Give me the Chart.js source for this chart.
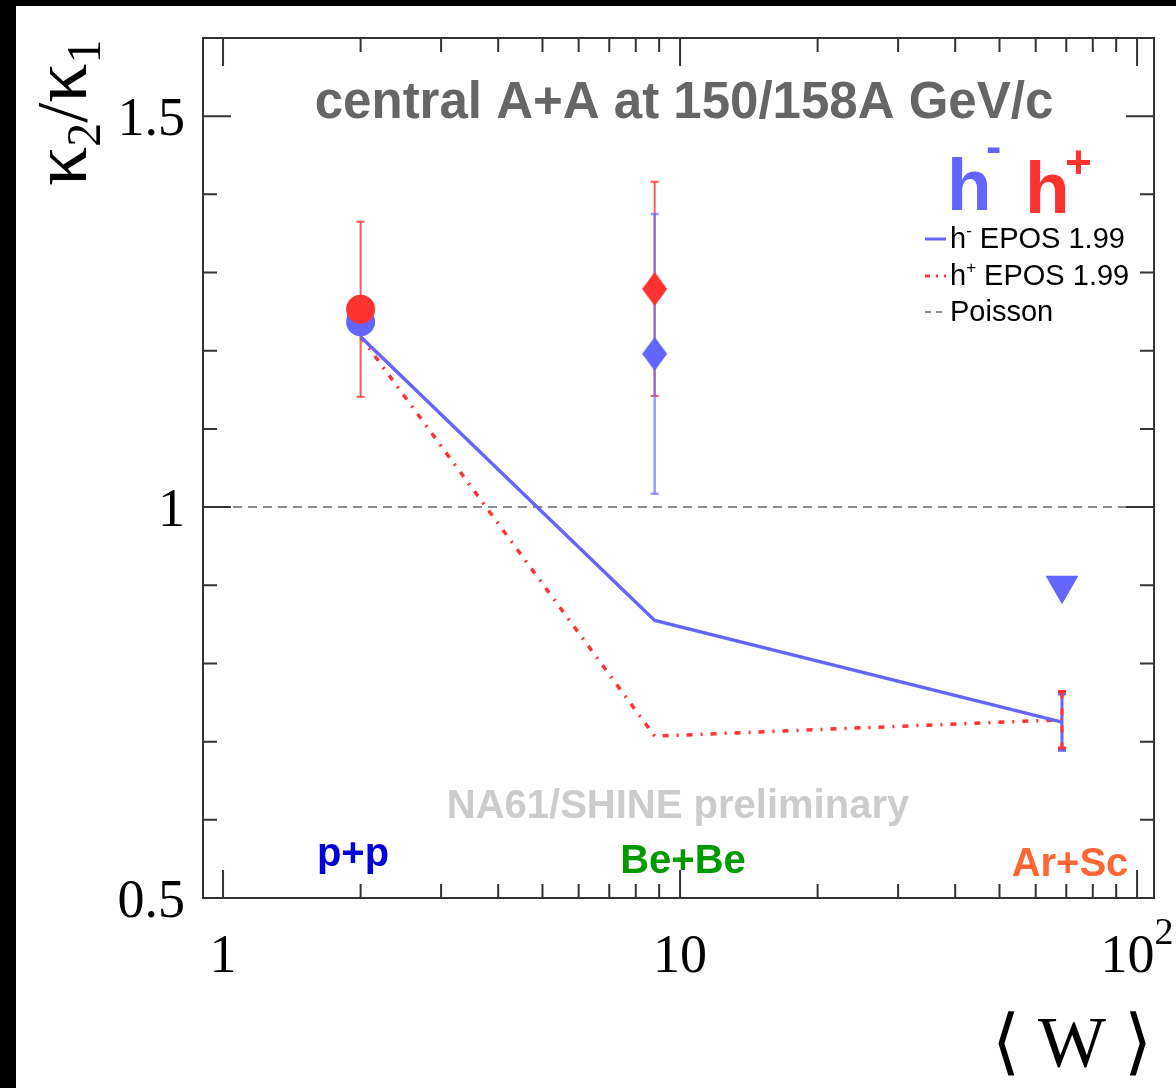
<!DOCTYPE html>
<html>
<head>
<meta charset="utf-8">
<script src="https://cdn.jsdelivr.net/npm/chart.js@4.4.1/dist/chart.umd.min.js"></script>
<style>
  html, body { margin: 0; padding: 0; background: #fff; }
  #wrap { width: 1176px; height: 1088px; }
</style>
</head>
<body>
<div id="wrap"><canvas id="chart" width="1176" height="1088"></canvas></div>
<script>
/* ---------- data ---------- */
const systems = ["p+p", "Be+Be", "Ar+Sc"];
const systemColors = ["#0000dd", "#009900", "#ff6633"];
const wMean = [2.0, 8.8, 68.5];

// NA61/SHINE points
const hMinus = [1.237, 1.196, 0.900];
const hMinusErr = [null, 0.179, null];
const hPlus = [1.253, 1.279, null];
const hPlusErr = [0.112, 0.137, null];

// EPOS 1.99
const eposMinus = [1.218, 0.855, 0.725];
const eposPlus = [1.218, 0.707, 0.728];
const eposErr = [null, null, 0.036];

// axes
const yMajor = [0.5, 1, 1.5];
const yMajorLabels = ["0.5", "1", "1.5"];
const yMinor = [0.6, 0.7, 0.8, 0.9, 1.1, 1.2, 1.3, 1.4];
const xMajor = [1, 10, 100];
const xMajorLabels = ["1", "10", "10|2"];
const xMinor = [2, 3, 4, 5, 6, 7, 8, 9, 20, 30, 40, 50, 60, 70, 80, 90];

const BLUE = "#6464ff";
const RED = "#ff3232";
const SANS = "'Liberation Sans', Arial, sans-serif";
const SERIF = "'Liberation Serif', 'Times New Roman', serif";

/* ---------- helpers ---------- */
function diamond(color, w, h) {
  const c = document.createElement("canvas");
  c.width = w; c.height = h;
  const g = c.getContext("2d");
  g.fillStyle = color;
  g.beginPath();
  g.moveTo(w / 2, 0); g.lineTo(w, h / 2); g.lineTo(w / 2, h); g.lineTo(0, h / 2);
  g.closePath(); g.fill();
  return c;
}

function pts(arr) {
  return wMean.map((x, i) => ({ x: x, y: arr[i] }));
}

function text(ctx, s, x, y, font, color, align) {
  ctx.font = font;
  ctx.fillStyle = color;
  ctx.textAlign = align || "left";
  ctx.textBaseline = "alphabetic";
  ctx.fillText(s, x, y);
}

function vbar(ctx, xs, ys, x, y, e, color, width, dash) {
  const px = xs.getPixelForValue(x);
  const top = ys.getPixelForValue(y + e);
  const bot = ys.getPixelForValue(y - e);
  ctx.save();
  ctx.strokeStyle = color;
  ctx.lineWidth = width;
  ctx.setLineDash(dash || []);
  ctx.beginPath();
  ctx.moveTo(px, top); ctx.lineTo(px, bot);
  ctx.stroke();
  ctx.setLineDash([]);
  ctx.beginPath();
  ctx.moveTo(px - 4, top); ctx.lineTo(px + 4, top);
  ctx.moveTo(px - 4, bot); ctx.lineTo(px + 4, bot);
  ctx.stroke();
  ctx.restore();
}

/* ---------- ROOT-like frame, ticks, texts ---------- */
const rootStyle = {
  id: "rootStyle",
  beforeDraw(chart) {
    const ctx = chart.ctx;
    ctx.save();
    ctx.fillStyle = "#fff";
    ctx.fillRect(0, 0, chart.width, chart.height);
    ctx.fillStyle = "#000";
    ctx.fillRect(0, 0, chart.width, 6);
    ctx.fillRect(0, 0, 16, chart.height);
    ctx.restore();
  },
  beforeDatasetsDraw(chart) {
    const ctx = chart.ctx, a = chart.chartArea;
    const xs = chart.scales.x, ys = chart.scales.y;
    // Poisson reference
    ctx.save();
    ctx.strokeStyle = "#8c8c8c";
    ctx.lineWidth = 2;
    ctx.setLineDash([9, 6]);
    ctx.beginPath();
    ctx.moveTo(a.left, ys.getPixelForValue(1));
    ctx.lineTo(a.right, ys.getPixelForValue(1));
    ctx.stroke();
    ctx.restore();
    // error bars
    wMean.forEach((x, i) => {
      if (hPlusErr[i] != null) vbar(ctx, xs, ys, x, hPlus[i], hPlusErr[i], "rgba(255,70,70,0.9)", 2);
      if (hMinusErr[i] != null) vbar(ctx, xs, ys, x, hMinus[i], hMinusErr[i], "rgba(110,110,255,0.7)", 2.5);
      if (eposErr[i] != null) {
        vbar(ctx, xs, ys, x, eposMinus[i], eposErr[i], BLUE, 3);
        vbar(ctx, xs, ys, x, eposPlus[i], eposErr[i], RED, 3, [7, 10]);
      }
    });
  },
  afterDatasetsDraw(chart) {
    const ctx = chart.ctx, a = chart.chartArea;
    const xs = chart.scales.x, ys = chart.scales.y;
    ctx.save();
    ctx.strokeStyle = "#333";
    ctx.lineWidth = 2;
    ctx.strokeRect(a.left, a.top, a.right - a.left, a.bottom - a.top);
    ctx.beginPath();
    const yTick = (v, len) => {
      const py = ys.getPixelForValue(v);
      ctx.moveTo(a.left, py); ctx.lineTo(a.left + len, py);
      ctx.moveTo(a.right, py); ctx.lineTo(a.right - len, py);
    };
    const xTick = (v, len) => {
      const px = xs.getPixelForValue(v);
      ctx.moveTo(px, a.bottom); ctx.lineTo(px, a.bottom - len);
      ctx.moveTo(px, a.top); ctx.lineTo(px, a.top + len);
    };
    yMajor.forEach(v => yTick(v, 28));
    yMinor.forEach(v => yTick(v, 14));
    xMajor.forEach(v => xTick(v, 28));
    xMinor.forEach(v => xTick(v, 14));
    ctx.stroke();
    ctx.restore();

    // tick labels
    yMajor.forEach((v, i) => {
      text(ctx, yMajorLabels[i], a.left - 18, ys.getPixelForValue(v) + 19, "54px " + SERIF, "#000", "right");
    });
    xMajor.forEach((v, i) => {
      const px = xs.getPixelForValue(v);
      const parts = xMajorLabels[i].split("|");
      if (parts.length === 1) {
        text(ctx, parts[0], px, a.bottom + 74, "54px " + SERIF, "#000", "center");
      } else {
        ctx.font = "54px " + SERIF;
        const w1 = ctx.measureText(parts[0]).width;
        ctx.font = "38px " + SERIF;
        const w2 = ctx.measureText(parts[1]).width;
        const x0 = px - (w1 + w2) / 2;
        text(ctx, parts[0], x0, a.bottom + 74, "54px " + SERIF, "#000", "left");
        text(ctx, parts[1], x0 + w1, a.bottom + 46, "38px " + SERIF, "#000", "left");
      }
    });

    // axis titles
    ctx.save();
    ctx.translate(86, 186);
    ctx.rotate(-Math.PI / 2);
    let cx = 0;
    const seq = [["κ", 0, "78px"], ["2", 14, "48px"], ["/", 0, "72px"], ["κ", 0, "78px"], ["1", 14, "48px"]];
    seq.forEach(([s, dy, fs]) => {
      ctx.font = fs + " " + SERIF;
      ctx.fillStyle = "#000";
      ctx.textAlign = "left";
      ctx.fillText(s, cx, dy);
      cx += ctx.measureText(s).width;
    });
    ctx.restore();
    text(ctx, "⟨ W ⟩", 1152, 1066, "72px " + SERIF, "#000", "right");

    // header and labels
    text(ctx, "central A+A at 150/158A GeV/c", 684, 118, "bold 51px " + SANS, "#666666", "center");
    text(ctx, "NA61/SHINE preliminary", 678, 818, "bold 40px " + SANS, "#cccccc", "center");
    wMean.forEach((x, i) => {
      const lx = [353, 683, 1070][i];
      text(ctx, systems[i], lx, [866, 873, 876][i], "bold 40px " + SANS, systemColors[i], "center");
    });

    // big h- h+
    text(ctx, "h", 947, 210, "bold 73px " + SANS, BLUE, "left");
    text(ctx, "-", 986, 162, "bold 46px " + SANS, BLUE, "left");
    text(ctx, "h", 1025, 213, "bold 73px " + SANS, RED, "left");
    text(ctx, "+", 1065, 178, "bold 46px " + SANS, RED, "left");

    // legend
    const rows = [
      { sup: "-", label: " EPOS 1.99", y: 248, color: BLUE, dash: [] },
      { sup: "+", label: " EPOS 1.99", y: 285, color: RED, dash: [5, 6, 2, 6] },
      { sup: null, label: "Poisson", y: 321, color: "#8c8c8c", dash: [6, 5] }
    ];
    rows.forEach(r => {
      ctx.save();
      ctx.strokeStyle = r.color;
      ctx.lineWidth = r.sup ? 3 : 2;
      ctx.setLineDash(r.dash);
      ctx.beginPath();
      ctx.moveTo(925, r.y - 9); ctx.lineTo(946, r.y - 9);
      ctx.stroke();
      ctx.restore();
      let tx = 950;
      if (r.sup) {
        text(ctx, "h", tx, r.y, "29px " + SANS, "#000", "left");
        tx += ctx.measureText("h").width;
        text(ctx, r.sup, tx, r.y - 12, "17px " + SANS, "#000", "left");
        tx += ctx.measureText(r.sup).width;
      }
      text(ctx, r.label, tx, r.y, "29px " + SANS, "#000", "left");
    });
  }
};

/* ---------- chart ---------- */
new Chart(document.getElementById("chart"), {
  type: "scatter",
  data: {
    datasets: [
      {
        label: "h+",
        data: pts(hPlus),
        order: 1,
        backgroundColor: RED,
        borderColor: RED,
        borderWidth: 0,
        pointStyle: ["circle", diamond(RED, 25, 34), "circle"],
        pointRadius: [14.5, 15, 0],
        showLine: false
      },
      {
        label: "h-",
        data: pts(hMinus),
        order: 2,
        backgroundColor: BLUE,
        borderColor: BLUE,
        borderWidth: 0,
        pointStyle: ["circle", diamond(BLUE, 25, 34), "triangle"],
        pointRotation: [0, 0, 180],
        pointRadius: [14.5, 15, 19],
        showLine: false
      },
      {
        label: "h- EPOS 1.99",
        data: pts(eposMinus),
        order: 3,
        showLine: true,
        borderColor: "#6666ff",
        borderWidth: 3.5,
        pointRadius: 0,
        tension: 0
      },
      {
        label: "h+ EPOS 1.99",
        data: pts(eposPlus),
        order: 4,
        showLine: true,
        borderColor: "#ff3333",
        borderWidth: 3.5,
        borderDash: [6, 8, 2, 8],
        pointRadius: 0,
        tension: 0
      }
    ]
  },
  options: {
    responsive: false,
    animation: false,
    devicePixelRatio: 1,
    layout: { padding: { left: 203, top: 38, right: 22, bottom: 190 } },
    scales: {
      x: { type: "logarithmic", min: 0.904, max: 108.9, display: false },
      y: { type: "linear", min: 0.5, max: 1.6, display: false }
    },
    plugins: {
      legend: { display: false },
      tooltip: { enabled: false }
    }
  },
  plugins: [rootStyle]
});
</script>
</body>
</html>
